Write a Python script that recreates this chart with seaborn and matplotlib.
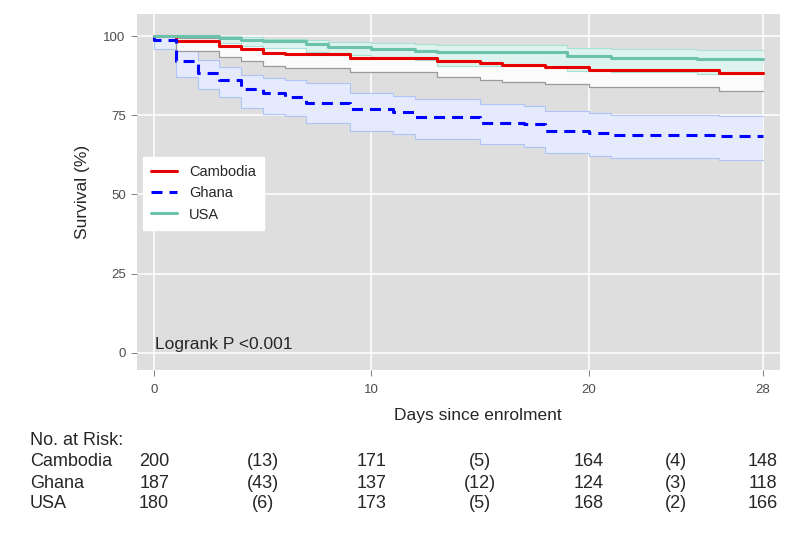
import seaborn as sns
import matplotlib.pyplot as plt
import pandas as pd
import numpy as np
from matplotlib.transforms import blended_transform_factory

# Kaplan-Meier (%) e IC 95% (degraus nos dias indicados)
dias_cam = [0, 1, 3, 4, 5, 6, 9, 13, 15, 16, 18, 20, 26, 28]
surv_cam = [100, 98.4, 96.8, 95.8, 94.8, 94.2, 93.1, 92.1, 91.5, 90.8, 90.2, 89.3, 88.2, 88.2]
lo_cam = [100, 95.4, 93.4, 92.0, 90.5, 89.8, 88.8, 87.2, 86.2, 85.4, 84.7, 83.9, 82.7, 82.7]
hi_cam = [100, 99.5, 98.7, 98.1, 97.3, 96.9, 96.1, 95.4, 94.9, 94.4, 93.9, 93.2, 92.3, 92.3]

dias_gha = [0, 0, 1, 2, 3, 4, 5, 6, 7, 9, 11, 12, 15, 17, 18, 20, 21, 26, 28]
surv_gha = [100, 98.9, 92.2, 88.2, 86.2, 83.4, 81.9, 80.6, 78.9, 77.1, 76.1, 74.5, 72.7, 72.2, 70.0, 69.5, 68.8, 68.3, 68.3]
lo_gha = [100, 95.8, 87.1, 83.2, 80.6, 77.4, 75.5, 74.8, 72.7, 70.0, 69.0, 67.6, 65.8, 65.1, 63.2, 62.1, 61.6, 60.8, 60.8]
hi_gha = [100, 99.7, 95.8, 92.3, 90.3, 87.8, 86.8, 86.1, 85.3, 81.9, 81.1, 80.1, 78.5, 77.9, 76.4, 75.8, 75.1, 74.6, 74.6]

dias_usa = [0, 3, 4, 5, 7, 8, 10, 12, 13, 19, 21, 25, 28]
surv_usa = [100, 99.4, 98.8, 98.3, 97.4, 96.5, 96.0, 95.4, 94.9, 93.7, 93.1, 92.6, 92.6]
lo_usa = [100, 97.8, 96.9, 96.1, 94.9, 93.9, 93.3, 92.3, 90.6, 89.1, 88.6, 88.1, 88.1]
hi_usa = [100, 99.9, 99.6, 99.2, 98.8, 98.1, 97.7, 97.4, 97.3, 96.3, 96.0, 95.7, 95.7]

# tabela de numero em risco
paises = ['Cambodia', 'Ghana', 'USA']
risco_dias = [0, 5, 10, 15, 20, 24, 28]
risco_cam = ['200', '(13)', '171', '(5)', '164', '(4)', '148']
risco_gha = ['187', '(43)', '137', '(12)', '124', '(3)', '118']
risco_usa = ['180', '(6)', '173', '(5)', '168', '(2)', '166']

x_ticks = [0, 10, 20, 28]
y_ticks = [0, 25, 50, 75, 100]

sns.set_theme(style='darkgrid', rc={'axes.facecolor': '#DEDEDE', 'grid.color': 'white'})
plt.rcParams['font.family'] = ['Liberation Sans', 'DejaVu Sans']

fig = plt.figure(figsize=(8, 5.33), dpi=100)
ax = fig.add_axes([0.171, 0.306, 0.804, 0.668])

# faixas de confianca
ax.fill_between(dias_gha, lo_gha, hi_gha, step='post', facecolor='#E5EBFD', edgecolor='none', zorder=1)
ax.step(dias_gha, lo_gha, where='post', color='#AFC5FA', lw=0.8, zorder=1.1)
ax.step(dias_gha, hi_gha, where='post', color='#AFC5FA', lw=0.8, zorder=1.1)
ax.fill_between(dias_cam, lo_cam, hi_cam, step='post', facecolor='#FBFBFB', edgecolor='none', zorder=1.2)
ax.step(dias_cam, lo_cam, where='post', color='#9A9A9A', lw=0.9, zorder=1.3)
ax.step(dias_cam, hi_cam, where='post', color='#9A9A9A', lw=0.9, zorder=1.3)
ax.fill_between(dias_usa, lo_usa, hi_usa, step='post', facecolor='#DDF3EE', edgecolor='none', zorder=1.4)
ax.step(dias_usa, lo_usa, where='post', color='#A8E0D3', lw=0.8, zorder=1.5)
ax.step(dias_usa, hi_usa, where='post', color='#A8E0D3', lw=0.8, zorder=1.5)

# curvas de sobrevida
sns.lineplot(x=dias_cam, y=surv_cam, ax=ax, drawstyle='steps-post', estimator=None, sort=False,
             color='#E80000', lw=2.2, label='Cambodia', zorder=3)
sns.lineplot(x=dias_gha, y=surv_gha, ax=ax, drawstyle='steps-post', estimator=None, sort=False,
             color='#0000FF', lw=2.2, linestyle=(0, (3.6, 2.3)), label='Ghana', zorder=3)
sns.lineplot(x=dias_usa, y=surv_usa, ax=ax, drawstyle='steps-post', estimator=None, sort=False,
             color='#6CC1AA', lw=2.2, label='USA', zorder=3)

ax.set_xlim(-0.8, 28.8)
ax.set_ylim(-5.4, 107)
ax.set_xticks(x_ticks)
ax.set_yticks(y_ticks)
ax.grid(True, color='white', lw=1.1)
ax.set_axisbelow(True)
for s in ax.spines.values():
    s.set_visible(False)
ax.tick_params(bottom=True, left=True, length=4, width=0.7, color='#7F7F7F',
               labelcolor='#4D4D4D', labelsize=9.5, pad=4)
ax.tick_params(axis='x', pad=6)
ax.set_xlabel('')
ax.set_ylabel('')

fig.text(478 / 800, 1 - 420 / 533, 'Days since enrolment', ha='center', va='baseline', fontsize=12.5)
fig.text(82 / 800, 1 - 192 / 533, 'Survival (%)', ha='center', va='center', rotation=90, fontsize=12.5)
ax.text(0.029, 0.058, 'Logrank P <0.001', transform=ax.transAxes, ha='left', va='baseline', fontsize=12.5)

leg = ax.legend(loc='upper left', bbox_to_anchor=(143 / 800, 1 - 157 / 533), bbox_transform=fig.transFigure,
                frameon=True, fancybox=False, framealpha=1, edgecolor='white', facecolor='white',
                borderaxespad=0, handlelength=1.8, handletextpad=0.8, labelspacing=0.5,
                borderpad=0.55, fontsize=10.5)

# numero em risco
tr = blended_transform_factory(ax.transData, fig.transFigure)
fig.text(30 / 800, 1 - 445 / 533, 'No. at Risk:', ha='left', va='baseline', fontsize=13)
linhas_y = [466.5, 487.5, 508.5]
for nome, vals, yy in zip(paises, [risco_cam, risco_gha, risco_usa], linhas_y):
    fig.text(30 / 800, 1 - yy / 533, nome, ha='left', va='baseline', fontsize=13)
    for d, v in zip(risco_dias, vals):
        ax.text(d, 1 - yy / 533, v, transform=tr, ha='center', va='baseline', fontsize=13, clip_on=False)

fig.savefig('out.png', dpi=100)
